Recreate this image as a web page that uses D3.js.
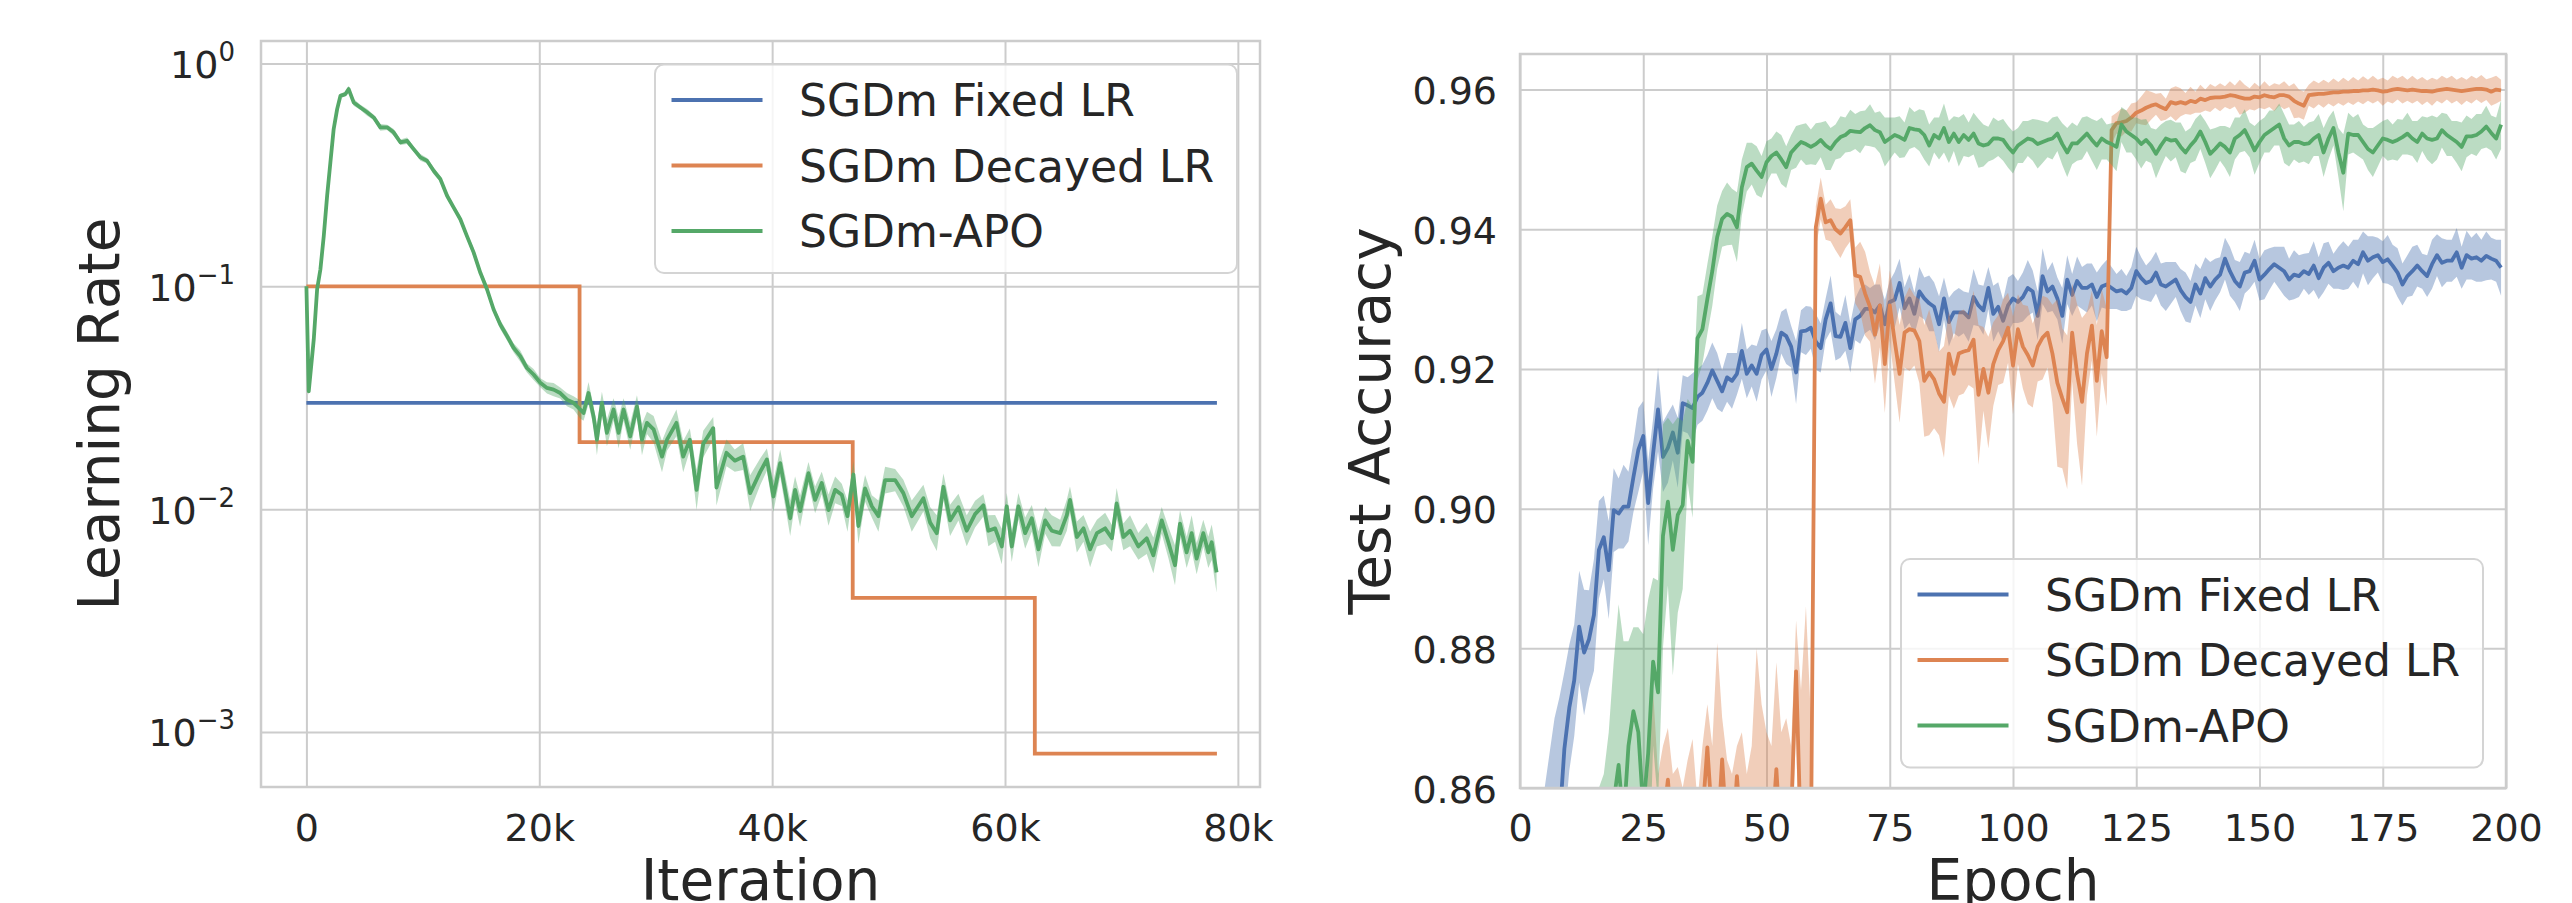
<!DOCTYPE html>
<html>
<head>
<meta charset="utf-8">
<script src="https://cdn.jsdelivr.net/npm/d3@7/dist/d3.min.js"></script>
<style>
  body { margin: 0; background: #fff; }
</style>
</head>
<body>
<script>
// ---- data ----

var seriesNames = ["SGDm Fixed LR", "SGDm Decayed LR", "SGDm-APO"];
var seriesColors = ["#4c72b0", "#dd8452", "#55a868"];

// left panel: learning rate vs iteration
var iterTicks = [0, 20000, 40000, 60000, 80000];
var iterTickLabels = ["0", "20k", "40k", "60k", "80k"];
var lrTicks = [1, 0.1, 0.01, 0.001];
var lrTickExp = ["0", "\u22121", "\u22122", "\u22123"];

var fixedIter = [0, 78200];
var fixedLR = [0.03, 0.03];

var decayIter = [0, 23460, 46920, 62560, 78200];
var decayLR = [0.1, 0.02, 0.004, 0.0008, 0.0008];

var apoIter = [
  0, 200, 630, 920, 1200, 1490, 1780, 2060, 2340, 2640,
  2920, 3350, 3630, 4060, 4640, 5210, 5780, 6350, 6930, 7490,
  8070, 8640, 9210, 9790, 10360, 10930, 11500, 12080, 12640, 13220,
  13790, 14360, 14940, 15510, 16080, 16650, 17230, 17790, 18370, 18940,
  19510, 20090, 20660, 21230, 21800, 22380, 22940, 23520, 23800, 24230,
  24660, 24950, 25380, 25810, 26380, 26810, 27240, 27810, 28390, 28820,
  29250, 29820, 30540, 30970, 31780, 32360, 32930, 33510, 34080, 34940,
  35220, 36080, 36790, 37510, 38110, 38970, 39550, 40110, 40690, 41550,
  41970, 42400, 43120, 43690, 44260, 44840, 45410, 45980, 46470, 46980,
  47410, 47980, 48560, 49130, 49700, 50560, 51270, 51990, 52990, 53570,
  54140, 54710, 55280, 56000, 56710, 57430, 58140, 58570, 59150, 59720,
  60150, 60580, 61150, 61730, 62300, 62870, 63450, 64020, 64740, 65310,
  65580, 66170, 66740, 67310, 67890, 68600, 69180, 69590, 70160, 70740,
  71450, 72170, 72740, 73460, 74030, 74600, 75030, 75600, 76030, 76460,
  77030, 77460, 77750, 78170
];
var apoLR = [
  0.1, 0.0338, 0.0577, 0.097, 0.119, 0.168, 0.255, 0.36, 0.507, 0.624,
  0.716, 0.729, 0.768, 0.669, 0.635, 0.604, 0.573, 0.517, 0.517, 0.491,
  0.443, 0.45, 0.413, 0.379, 0.366, 0.33, 0.303, 0.255, 0.226, 0.2,
  0.168, 0.142, 0.115, 0.097, 0.0787, 0.0674, 0.0598, 0.053, 0.0486, 0.043,
  0.0402, 0.0369, 0.035, 0.0344, 0.0332, 0.031, 0.030, 0.028, 0.027, 0.0332,
  0.0261, 0.0205, 0.030, 0.022, 0.028, 0.022, 0.028, 0.0212, 0.0289, 0.0205,
  0.0244, 0.0228, 0.0172, 0.0205, 0.0244, 0.0172, 0.0205, 0.0122, 0.0196, 0.0231,
  0.0125, 0.0179, 0.0165, 0.0172, 0.0118, 0.0147, 0.0167, 0.0114, 0.0161, 0.0091,
  0.0122, 0.0098, 0.0145, 0.011, 0.0131, 0.0099, 0.0122, 0.0116, 0.0093, 0.0143,
  0.0084, 0.0124, 0.0103, 0.0093, 0.0135, 0.0135, 0.0118, 0.0093, 0.0112, 0.0087,
  0.0078, 0.0126, 0.0089, 0.0102, 0.008, 0.0095, 0.0104, 0.008, 0.0082, 0.0068,
  0.0103, 0.0068, 0.0103, 0.0078, 0.0091, 0.0066, 0.0089, 0.008, 0.0078, 0.0094,
  0.011, 0.0075, 0.0082, 0.0066, 0.0078, 0.0082, 0.0074, 0.0106, 0.0075, 0.008,
  0.0068, 0.0074, 0.0062, 0.0089, 0.0071, 0.0056, 0.0086, 0.0064, 0.0078, 0.006,
  0.0078, 0.0064, 0.0071, 0.0052
];
// half width of the shaded band, in decades
var apoSpread = [
  0.01, 0.02, 0.01, 0.01, 0.01, 0.01, 0.01, 0.01, 0.01, 0.01,
  0.01, 0.01, 0.015, 0.015, 0.012, 0.015, 0.012, 0.015, 0.012, 0.015,
  0.012, 0.015, 0.012, 0.015, 0.012, 0.015, 0.012, 0.015, 0.012, 0.015,
  0.015, 0.02, 0.015, 0.02, 0.015, 0.02, 0.02, 0.02, 0.025, 0.02,
  0.025, 0.02, 0.025, 0.03, 0.025, 0.03, 0.03, 0.04, 0.035, 0.05,
  0.045, 0.07, 0.05, 0.06, 0.05, 0.07, 0.05, 0.06, 0.05, 0.07,
  0.05, 0.06, 0.07, 0.05, 0.06, 0.07, 0.05, 0.09, 0.06, 0.05,
  0.08, 0.06, 0.05, 0.06, 0.08, 0.06, 0.05, 0.07, 0.06, 0.08,
  0.06, 0.07, 0.05, 0.06, 0.05, 0.07, 0.06, 0.05, 0.07, 0.06,
  0.08, 0.06, 0.05, 0.07, 0.06, 0.05, 0.06, 0.07, 0.06, 0.07,
  0.08, 0.06, 0.07, 0.06, 0.07, 0.06, 0.05, 0.07, 0.06, 0.08,
  0.06, 0.07, 0.06, 0.07, 0.06, 0.08, 0.06, 0.07, 0.06, 0.07,
  0.06, 0.07, 0.06, 0.08, 0.06, 0.07, 0.06, 0.07, 0.06, 0.07,
  0.06, 0.07, 0.08, 0.06, 0.07, 0.09, 0.06, 0.07, 0.08, 0.07,
  0.06, 0.07, 0.08, 0.09
];

// right panel: test accuracy vs epoch (epochs 0..199)
var epochTicks = [0, 25, 50, 75, 100, 125, 150, 175, 200];
var accTicks = [0.86, 0.88, 0.90, 0.92, 0.94, 0.96];
var epochs = d3.range(200);

var fixedAcc = [
  0.800,0.810,0.820,0.830,0.835,0.840,0.845,0.850,0.855,0.8656,
  0.8715,0.8754,0.8831,0.8794,0.8813,0.8848,0.8941,0.8959,0.8912,0.8998,
  0.8993,0.9003,0.9003,0.9045,0.9084,0.9104,0.9008,0.9079,0.9142,0.9074,
  0.9087,0.9109,0.9080,0.9151,0.9148,0.9144,0.9160,0.9166,0.9180,0.9198,
  0.9183,0.9168,0.9188,0.9183,0.9193,0.9226,0.9193,0.9205,0.9193,0.9220,
  0.9228,0.9200,0.9222,0.9252,0.9247,0.9232,0.9195,0.9254,0.9255,0.9259,
  0.9239,0.9230,0.9271,0.9294,0.9247,0.9246,0.9266,0.9230,0.9271,0.9276,
  0.9286,0.9286,0.9281,0.9291,0.9264,0.9296,0.9299,0.9323,0.9287,0.9301,
  0.9279,0.9311,0.9301,0.9294,0.9289,0.9264,0.9301,0.9267,0.9281,0.9281,
  0.9281,0.9274,0.9303,0.9291,0.9284,0.9316,0.9279,0.9289,0.9269,0.9291,
  0.9301,0.9296,0.9303,0.9316,0.9311,0.9276,0.9333,0.9311,0.9318,0.9301,
  0.9276,0.9328,0.9306,0.9326,0.9316,0.9316,0.9321,0.9303,0.9318,0.9321,
  0.9316,0.9311,0.9313,0.9308,0.9316,0.9340,0.9330,0.9323,0.9326,0.9338,
  0.9321,0.9318,0.9323,0.9328,0.9313,0.9303,0.9296,0.9321,0.9308,0.9330,
  0.9318,0.9328,0.9335,0.9358,0.9340,0.9326,0.9318,0.9338,0.9340,0.9355,
  0.9328,0.9335,0.9343,0.9350,0.9345,0.9340,0.9328,0.9335,0.9333,0.9340,
  0.9336,0.9348,0.9330,0.9345,0.9352,0.9340,0.9345,0.9348,0.9345,0.9355,
  0.9350,0.9367,0.9355,0.9360,0.9363,0.9353,0.9357,0.9348,0.9338,0.9321,
  0.9333,0.9340,0.9348,0.9340,0.9333,0.9350,0.9363,0.9352,0.9355,0.9355,
  0.9367,0.9345,0.9363,0.9358,0.9360,0.9355,0.9362,0.9358,0.9355,0.9345
];
var fixedSpread = [
  0.020,0.020,0.020,0.020,0.020,0.020,0.020,0.020,0.018,0.011,
  0.009,0.008,0.008,0.009,0.007,0.008,0.007,0.006,0.007,0.006,
  0.005,0.006,0.005,0.005,0.006,0.005,0.006,0.005,0.006,0.005,
  0.005,0.004,0.005,0.004,0.004,0.005,0.004,0.004,0.004,0.004,
  0.004,0.003,0.0035,0.004,0.003,0.004,0.0035,0.003,0.004,0.0035,
  0.003,0.004,0.0035,0.003,0.004,0.003,0.0045,0.003,0.0035,0.003,
  0.004,0.0035,0.003,0.004,0.0035,0.003,0.004,0.0035,0.003,0.004,
  0.0035,0.003,0.004,0.003,0.0035,0.003,0.004,0.0035,0.003,0.0035,
  0.003,0.0035,0.003,0.004,0.0035,0.004,0.003,0.0035,0.003,0.0035,
  0.003,0.0035,0.004,0.003,0.0035,0.003,0.004,0.0035,0.003,0.004,
  0.0035,0.003,0.0035,0.004,0.003,0.0035,0.004,0.003,0.0035,0.003,
  0.004,0.0035,0.003,0.0035,0.003,0.0035,0.003,0.0035,0.003,0.0035,
  0.003,0.0025,0.003,0.0025,0.003,0.0035,0.003,0.0025,0.003,0.003,
  0.003,0.0035,0.003,0.0025,0.003,0.0035,0.003,0.003,0.0035,0.003,
  0.0035,0.003,0.0025,0.003,0.0035,0.003,0.0035,0.003,0.0025,0.003,
  0.003,0.0035,0.003,0.0025,0.003,0.0035,0.003,0.0035,0.003,0.0025,
  0.003,0.0035,0.003,0.0035,0.003,0.0025,0.003,0.0035,0.003,0.003,
  0.0035,0.003,0.0035,0.003,0.0025,0.003,0.0035,0.003,0.0035,0.003,
  0.003,0.0035,0.003,0.0025,0.003,0.0035,0.003,0.0035,0.003,0.003,
  0.0035,0.003,0.0035,0.003,0.0035,0.003,0.0035,0.003,0.003,0.004
];

var decayAcc = [
  0.700,0.720,0.740,0.760,0.770,0.780,0.790,0.800,0.805,0.810,
  0.815,0.820,0.822,0.825,0.830,0.830,0.835,0.838,0.840,0.838,
  0.842,0.845,0.840,0.845,0.848,0.843,0.850,0.846,0.852,0.855,
  0.8612,0.852,0.848,0.854,0.850,0.853,0.849,0.856,0.8658,0.855,
  0.852,0.8641,0.853,0.851,0.8617,0.852,0.855,0.850,0.853,0.849,
  0.855,0.852,0.8627,0.851,0.853,0.856,0.8767,0.852,0.845,0.850,
  0.9403,0.9444,0.9410,0.9413,0.9400,0.9394,0.9403,0.9413,0.9334,0.9332,
  0.9308,0.9289,0.9249,0.9291,0.9207,0.9291,0.9240,0.9193,0.9252,0.9257,
  0.9255,0.9240,0.9183,0.9195,0.9185,0.9165,0.9153,0.9222,0.9193,0.9222,
  0.9225,0.9227,0.9242,0.9163,0.9200,0.9166,0.9207,0.9227,0.9240,0.9259,
  0.9205,0.9257,0.9232,0.9220,0.9205,0.9232,0.9245,0.9252,0.9222,0.9180,
  0.9158,0.9138,0.9252,0.9193,0.9153,0.9222,0.9262,0.9183,0.9254,0.9217,
  0.9542,0.9552,0.9553,0.9555,0.9560,0.9567,0.9570,0.9574,0.9577,0.9579,
  0.9575,0.9572,0.9582,0.9580,0.9582,0.9580,0.9584,0.9582,0.9587,0.9585,
  0.9588,0.9589,0.9589,0.9590,0.9592,0.9591,0.9589,0.9587,0.9587,0.9590,
  0.9589,0.9592,0.9590,0.9589,0.9592,0.9592,0.9590,0.9584,0.9580,0.9577,
  0.9592,0.9593,0.9594,0.9594,0.9595,0.9596,0.9596,0.9597,0.9597,0.9598,
  0.9598,0.9599,0.9599,0.9600,0.9599,0.9597,0.9598,0.9600,0.9601,0.9600,
  0.9599,0.9600,0.9599,0.9598,0.9598,0.9597,0.9599,0.9600,0.9601,0.9600,
  0.9599,0.9598,0.9599,0.9600,0.9601,0.9601,0.9600,0.9597,0.9600,0.9599
];
var decaySpread = [
  0.010,0.010,0.010,0.010,0.010,0.010,0.010,0.010,0.010,0.010,
  0.010,0.010,0.010,0.010,0.010,0.010,0.010,0.010,0.010,0.010,
  0.010,0.010,0.010,0.010,0.010,0.012,0.012,0.028,0.010,0.011,
  0.0074,0.010,0.015,0.006,0.014,0.014,0.009,0.010,0.0062,0.011,
  0.0288,0.006,0.011,0.011,0.0043,0.016,0.007,0.016,0.027,0.023,
  0.013,0.014,0.0153,0.017,0.017,0.010,0.0073,0.022,0.041,0.020,
  0.003,0.003,0.0025,0.003,0.003,0.0035,0.003,0.003,0.004,0.005,
  0.006,0.005,0.007,0.006,0.007,0.005,0.006,0.007,0.005,0.006,
  0.005,0.006,0.008,0.009,0.007,0.006,0.008,0.006,0.005,0.006,
  0.006,0.005,0.007,0.010,0.006,0.008,0.006,0.005,0.006,0.005,
  0.007,0.005,0.006,0.007,0.006,0.005,0.006,0.005,0.007,0.012,
  0.010,0.011,0.007,0.010,0.012,0.006,0.005,0.008,0.006,0.007,
  0.002,0.0015,0.002,0.0015,0.002,0.0015,0.002,0.0025,0.002,0.0015,
  0.002,0.0015,0.002,0.0025,0.002,0.0015,0.002,0.0015,0.002,0.0015,
  0.002,0.0015,0.002,0.0015,0.002,0.0015,0.0025,0.002,0.0015,0.002,
  0.0015,0.002,0.0015,0.002,0.0015,0.002,0.0015,0.0025,0.002,0.002,
  0.0015,0.002,0.0015,0.002,0.0015,0.002,0.0015,0.002,0.0015,0.002,
  0.0015,0.002,0.0015,0.002,0.0015,0.002,0.0015,0.002,0.0015,0.002,
  0.0015,0.002,0.0015,0.002,0.0015,0.002,0.0015,0.002,0.0015,0.002,
  0.0015,0.002,0.0015,0.002,0.0015,0.002,0.0015,0.002,0.002,0.0015
];

var apoAcc = [
  0.700,0.710,0.720,0.730,0.740,0.750,0.760,0.770,0.780,0.790,
  0.800,0.810,0.820,0.830,0.840,0.845,0.850,0.852,0.855,0.858,
  0.8633,0.855,0.866,0.871,0.868,0.857,0.865,0.8781,0.8737,0.8961,
  0.9010,0.8941,0.8991,0.9005,0.9097,0.9067,0.9244,0.9257,0.9300,0.9340,
  0.9389,0.9415,0.9422,0.9418,0.9403,0.9460,0.9489,0.9494,0.9484,0.9475,
  0.9496,0.9505,0.9510,0.9500,0.9489,0.9510,0.9518,0.9525,0.9522,0.9518,
  0.9522,0.9528,0.9520,0.9515,0.9525,0.9532,0.9535,0.9541,0.9540,0.9539,
  0.9545,0.9549,0.9542,0.9539,0.9525,0.9530,0.9535,0.9532,0.9528,0.9545,
  0.9543,0.9542,0.9535,0.9520,0.9535,0.9530,0.9545,0.9525,0.9537,0.9525,
  0.9535,0.9528,0.9537,0.9523,0.9520,0.9522,0.9530,0.9530,0.9528,0.9518,
  0.9510,0.9520,0.9525,0.9530,0.9528,0.9522,0.9525,0.9528,0.9530,0.9537,
  0.9522,0.9510,0.9523,0.9523,0.9530,0.9537,0.9528,0.9520,0.9530,0.9525,
  0.9522,0.9518,0.9550,0.9540,0.9535,0.9530,0.9522,0.9528,0.9520,0.9508,
  0.9520,0.9530,0.9527,0.9528,0.9518,0.9510,0.9520,0.9528,0.9540,0.9525,
  0.9508,0.9515,0.9523,0.9518,0.9510,0.9530,0.9535,0.9542,0.9528,0.9513,
  0.9525,0.9535,0.9540,0.9545,0.9550,0.9530,0.9520,0.9525,0.9525,0.9522,
  0.9523,0.9530,0.9535,0.9510,0.9530,0.9545,0.9510,0.9481,0.9537,0.9535,
  0.9535,0.9525,0.9515,0.9510,0.9520,0.9530,0.9528,0.9525,0.9528,0.9532,
  0.9537,0.9530,0.9525,0.9537,0.9530,0.9528,0.9530,0.9542,0.9535,0.9530,
  0.9525,0.9518,0.9533,0.9533,0.9535,0.9540,0.9547,0.9538,0.9530,0.9550
];
var apoAccSpread = [
  0.010,0.010,0.010,0.010,0.010,0.010,0.010,0.010,0.010,0.010,
  0.010,0.010,0.010,0.010,0.010,0.010,0.010,0.010,0.013,0.020,
  0.023,0.026,0.015,0.012,0.015,0.025,0.022,0.012,0.016,0.016,
  0.012,0.018,0.014,0.012,0.006,0.008,0.006,0.005,0.005,0.005,
  0.0045,0.004,0.0045,0.004,0.005,0.004,0.0035,0.003,0.0035,0.003,
  0.003,0.0025,0.003,0.0035,0.003,0.0025,0.003,0.0025,0.003,0.0025,
  0.003,0.0025,0.0035,0.003,0.0025,0.003,0.0025,0.003,0.0025,0.003,
  0.0025,0.003,0.0025,0.003,0.0035,0.003,0.0025,0.003,0.0025,0.003,
  0.0025,0.003,0.0035,0.003,0.0025,0.003,0.0035,0.003,0.0025,0.0035,
  0.003,0.0025,0.003,0.0035,0.003,0.0025,0.003,0.0025,0.003,0.003,
  0.003,0.0025,0.003,0.0025,0.003,0.0035,0.003,0.0025,0.003,0.0025,
  0.003,0.0035,0.003,0.0025,0.003,0.0025,0.003,0.0035,0.003,0.0025,
  0.003,0.0035,0.0025,0.003,0.0025,0.003,0.0035,0.003,0.0025,0.0035,
  0.003,0.0025,0.003,0.0025,0.0035,0.003,0.0025,0.003,0.0025,0.003,
  0.0035,0.003,0.0025,0.003,0.0035,0.003,0.0025,0.003,0.0025,0.0035,
  0.003,0.0025,0.003,0.0025,0.003,0.0035,0.003,0.0025,0.003,0.0025,
  0.003,0.0025,0.003,0.0035,0.003,0.0025,0.0035,0.0055,0.003,0.0025,
  0.003,0.0025,0.003,0.0035,0.003,0.0025,0.003,0.0025,0.003,0.0025,
  0.003,0.0025,0.003,0.0025,0.003,0.0035,0.003,0.0025,0.003,0.0025,
  0.003,0.0035,0.003,0.0025,0.003,0.0025,0.003,0.0025,0.003,0.0035
];

// ---- drawing ----
var FONT = "DejaVu Sans";
var textColor = "#262626";
var gridColor = "#cccccc";
var lineW = 3.8;
var bandAlpha = 0.4;

var svg = d3.select("body").append("svg")
  .attr("width", 2572).attr("height", 903)
  .style("display", "block");

svg.append("rect").attr("width", 2572).attr("height", 903).attr("fill", "#fff");

var defs = svg.append("defs");

// panel boxes
var L = { left: 261, right: 1260, top: 41, bottom: 787 };
var R = { left: 1520, right: 2506, top: 54, bottom: 788 };

function clip(id, b) {
  defs.append("clipPath").attr("id", id).append("rect")
    .attr("x", b.left).attr("y", b.top)
    .attr("width", b.right - b.left).attr("height", b.bottom - b.top);
}
clip("clipL", L);
clip("clipR", R);

function styleAxis(g) {
  g.attr("font-family", FONT).attr("font-size", 38);
  g.select(".domain").remove();
  g.selectAll(".tick line").attr("stroke", gridColor).attr("stroke-width", 2);
  g.selectAll(".tick text").attr("fill", textColor);
}

// ---------- left panel ----------
var lx = d3.scaleLinear().domain([-3900, 81900]).range([L.left, L.right]);
var ly = d3.scaleLog().domain([Math.pow(10, -3.247), Math.pow(10, 0.101)]).range([L.bottom, L.top]);

var lgx = svg.append("g").attr("transform", "translate(0," + L.bottom + ")")
  .call(d3.axisBottom(lx).tickValues(iterTicks)
    .tickFormat(function(d, i) { return iterTickLabels[i]; })
    .tickSize(-(L.bottom - L.top)).tickPadding(0));
styleAxis(lgx);
lgx.selectAll(".tick text").attr("y", 54).attr("dy", null);

var lgy = svg.append("g").attr("transform", "translate(" + L.left + ",0)")
  .call(d3.axisLeft(ly).tickValues(lrTicks).tickFormat(function() { return ""; })
    .tickSize(-(L.right - L.left)).tickPadding(0));
styleAxis(lgy);
lgy.selectAll(".tick text").each(function(d, i) {
  var t = d3.select(this);
  t.attr("x", -26).attr("dy", 14).attr("text-anchor", "end").text("10");
  t.append("tspan").attr("dy", -17).attr("font-size", 26).text(lrTickExp[i]);
});

var gL = svg.append("g").attr("clip-path", "url(#clipL)");

var lrLine = d3.line().x(function(d) { return lx(d[0]); }).y(function(d) { return ly(d[1]); });

gL.append("path")
  .datum(fixedIter.map(function(x, i) { return [x, fixedLR[i]]; }))
  .attr("d", lrLine).attr("fill", "none")
  .attr("stroke", seriesColors[0]).attr("stroke-width", lineW);

gL.append("path")
  .datum(decayIter.map(function(x, i) { return [x, decayLR[i]]; }))
  .attr("d", lrLine.curve(d3.curveStepAfter)).attr("fill", "none")
  .attr("stroke", seriesColors[1]).attr("stroke-width", lineW)
  .attr("stroke-linejoin", "miter");
lrLine.curve(d3.curveLinear);

var apoPts = apoIter.map(function(x, i) { return [x, apoLR[i], apoSpread[i]]; });
gL.append("path")
  .datum(apoPts)
  .attr("d", d3.area()
    .x(function(d) { return lx(d[0]); })
    .y0(function(d) { return ly(d[1] / Math.pow(10, d[2])); })
    .y1(function(d) { return ly(d[1] * Math.pow(10, d[2])); }))
  .attr("fill", seriesColors[2]).attr("fill-opacity", bandAlpha);
gL.append("path")
  .datum(apoPts)
  .attr("d", lrLine).attr("fill", "none")
  .attr("stroke", seriesColors[2]).attr("stroke-width", lineW)
  .attr("stroke-linejoin", "round");

svg.append("rect")
  .attr("x", L.left).attr("y", L.top)
  .attr("width", L.right - L.left).attr("height", L.bottom - L.top)
  .attr("fill", "none").attr("stroke", gridColor).attr("stroke-width", 2.5);

// ---------- right panel ----------
var rx = d3.scaleLinear().domain([0, 200]).range([R.left, R.right]);
var ry = d3.scaleLinear().domain([0.86, 0.9651]).range([R.bottom, R.top]);

var rgx = svg.append("g").attr("transform", "translate(0," + R.bottom + ")")
  .call(d3.axisBottom(rx).tickValues(epochTicks).tickFormat(d3.format("d"))
    .tickSize(-(R.bottom - R.top)).tickPadding(0));
styleAxis(rgx);
rgx.selectAll(".tick text").attr("y", 53).attr("dy", null);

var rgy = svg.append("g").attr("transform", "translate(" + R.left + ",0)")
  .call(d3.axisLeft(ry).tickValues(accTicks).tickFormat(d3.format(".2f"))
    .tickSize(-(R.right - R.left)).tickPadding(0));
styleAxis(rgy);
rgy.selectAll(".tick text").attr("x", -23).attr("dy", 14);

var gR = svg.append("g").attr("clip-path", "url(#clipR)");

var accSeries = [
  { mean: fixedAcc, spread: fixedSpread },
  { mean: decayAcc, spread: decaySpread },
  { mean: apoAcc, spread: apoAccSpread }
];

accSeries.forEach(function(s, k) {
  var pts = epochs.map(function(e, i) { return [e, s.mean[i], s.spread[i]]; });
  gR.append("path").datum(pts)
    .attr("d", d3.area()
      .x(function(d) { return rx(d[0]); })
      .y0(function(d) { return ry(d[1] - d[2]); })
      .y1(function(d) { return ry(d[1] + d[2]); }))
    .attr("fill", seriesColors[k]).attr("fill-opacity", bandAlpha);
  gR.append("path").datum(pts)
    .attr("d", d3.line().x(function(d) { return rx(d[0]); }).y(function(d) { return ry(d[1]); }))
    .attr("fill", "none").attr("stroke", seriesColors[k])
    .attr("stroke-width", lineW).attr("stroke-linejoin", "round");
});

svg.append("rect")
  .attr("x", R.left).attr("y", R.top)
  .attr("width", R.right - R.left).attr("height", R.bottom - R.top)
  .attr("fill", "none").attr("stroke", gridColor).attr("stroke-width", 2.5);

// ---------- legends ----------
function drawLegend(rightEdge, top) {
  var g = svg.append("g");
  var box = g.append("rect");
  var maxW = 0;
  seriesNames.forEach(function(name, i) {
    var cy = 35.5 + i * 65.5;
    g.append("line")
      .attr("x1", 16.5).attr("x2", 107.5).attr("y1", cy).attr("y2", cy)
      .attr("stroke", seriesColors[i]).attr("stroke-width", lineW);
    var t = g.append("text")
      .attr("x", 144).attr("y", cy + 16)
      .attr("font-family", FONT).attr("font-size", 44).attr("fill", textColor)
      .text(name);
    maxW = Math.max(maxW, t.node().getComputedTextLength());
  });
  var w = 144 + maxW + 23;
  box.attr("x", 0).attr("y", 0).attr("width", w).attr("height", 208.5)
    .attr("rx", 9).attr("ry", 9)
    .attr("fill", "#fff").attr("fill-opacity", 0.8)
    .attr("stroke", "#d4d4d4").attr("stroke-width", 2);
  g.attr("transform", "translate(" + (rightEdge - w) + "," + top + ")");
}
drawLegend(L.right - 23, 64.5);
drawLegend(R.right - 23, 559);

// ---------- axis titles ----------
function title(x, y, txt, rot) {
  svg.append("text")
    .attr("transform", "translate(" + x + "," + y + ")" + (rot ? " rotate(-90)" : ""))
    .attr("text-anchor", "middle")
    .attr("font-family", FONT).attr("font-size", 56.5).attr("fill", textColor)
    .text(txt);
}
title(119, 414, "Learning Rate", true);
title(1390, 421, "Test Accuracy", true);
title((L.left + L.right) / 2, 900, "Iteration", false);
title((R.left + R.right) / 2, 900, "Epoch", false);
</script>
</body>
</html>
